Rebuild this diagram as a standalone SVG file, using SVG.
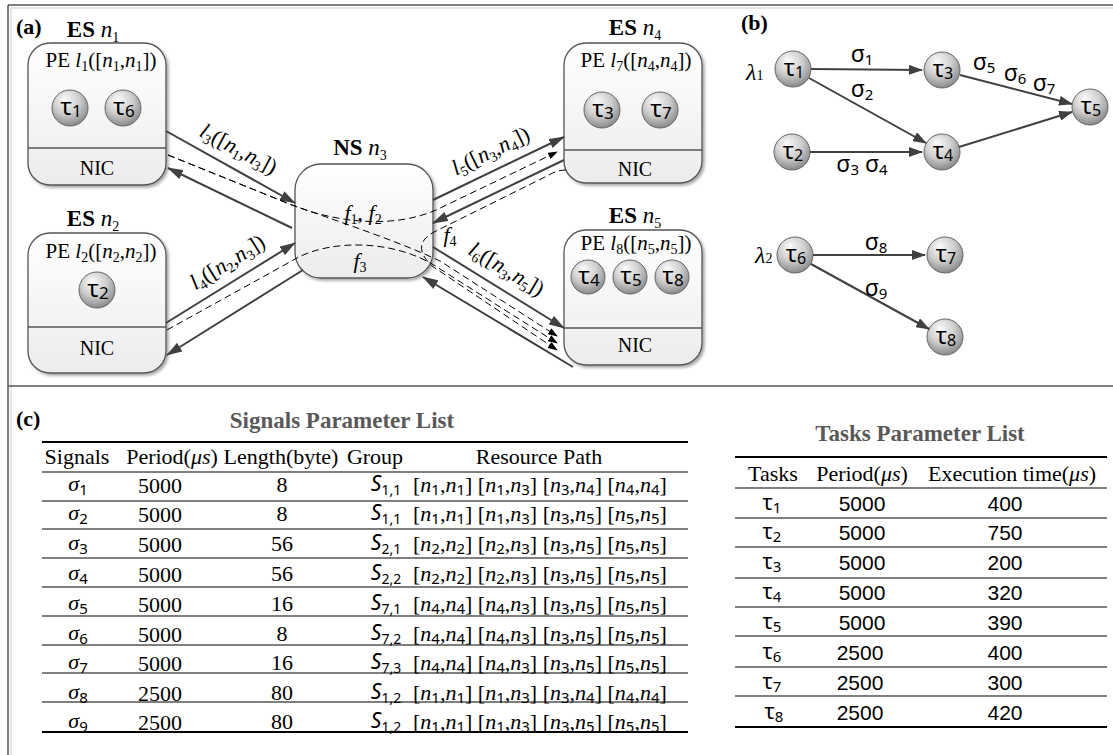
<svg xmlns="http://www.w3.org/2000/svg" width="1113" height="755" viewBox="0 0 1113 755">
<defs>
<style>
svg{font-family:"Liberation Serif","Times New Roman",serif}
text{fill:#000}
.b{font-weight:bold}
.it{font-style:italic}
.sb{font-size:14px}
.sn{font-family:"Noto Sans","DejaVu Sans",sans-serif}
.box{fill:url(#gbox);stroke:#555;stroke-width:1.3;filter:url(#sh)}
.div{stroke:#555;stroke-width:1.3}
.tk{fill:url(#gtk);stroke:#666;stroke-width:1}
.ln{stroke:#404040;stroke-width:2;fill:none;marker-end:url(#ah)}
.dl{stroke:#000;stroke-width:1;fill:none;stroke-dasharray:7 4;marker-end:url(#ahd)}
.gl{stroke:#404040;stroke-width:2;fill:none;marker-end:url(#ah2)}
.rule{stroke:#000;stroke-width:1.2}
.rule2{stroke:#000;stroke-width:2}
.ttl{font-size:23px;font-weight:bold;fill:#595959}
.frame{stroke:#555;stroke-width:1.5}
.frame2{stroke:#ddd;stroke-width:1.5}
.tx{font-size:24px}
.tsub{font-size:17px}
.cell{font-size:22px}
.ss{font-family:"Noto Sans","DejaVu Sans",sans-serif;font-size:15px}
.nic{font-size:20px}
.dg{font-family:"Liberation Sans",Arial,sans-serif;font-size:21px}
</style>
<linearGradient id="gbox" x1="0" y1="0" x2="0" y2="1">
<stop offset="0" stop-color="#ffffff"/>
<stop offset="1" stop-color="#ececec"/>
</linearGradient>
<radialGradient id="gtk" cx="45%" cy="35%" r="65%" fx="35%" fy="25%">
<stop offset="0" stop-color="#fbfbfb"/>
<stop offset="0.55" stop-color="#cfcfcf"/>
<stop offset="1" stop-color="#8a8a8a"/>
</radialGradient>
<filter id="sh" x="-10%" y="-10%" width="130%" height="130%">
<feDropShadow dx="2" dy="2" stdDeviation="1.5" flood-color="#000" flood-opacity="0.35"/>
</filter>
<marker id="ah" viewBox="0 0 16 10" refX="15" refY="5" markerWidth="16" markerHeight="10" markerUnits="userSpaceOnUse" orient="auto">
<path d="M0,0 L16,5 L0,10 z" fill="#404040"/>
</marker>
<marker id="ah2" viewBox="0 0 14 10" refX="13" refY="5" markerWidth="14" markerHeight="10" markerUnits="userSpaceOnUse" orient="auto">
<path d="M0,0 L14,5 L0,10 z" fill="#404040"/>
</marker>
<marker id="ahd" viewBox="0 0 10 7" refX="9" refY="3.5" markerWidth="10" markerHeight="7" markerUnits="userSpaceOnUse" orient="auto">
<path d="M0,0 L10,3.5 L0,7 z" fill="#000"/>
</marker>
</defs>

<rect x="0" y="0" width="1113" height="755" fill="#fff"/>

<g id="frame">
<line x1="8" y1="5" x2="1113" y2="5" class="frame"/>
<line x1="11" y1="8" x2="1113" y2="8" class="frame2"/>
<line x1="8" y1="5" x2="8" y2="755" class="frame"/>
<line x1="11" y1="8" x2="11" y2="755" class="frame2"/>
<line x1="8" y1="386" x2="1113" y2="386" class="frame"/>
</g>

<text x="16" y="34" font-size="22" class="b">(a)</text>
<text x="741" y="30" font-size="22" class="b">(b)</text>
<text x="16" y="426" font-size="22" class="b">(c)</text>

<g id="es-n1">
<rect x="28" y="43" width="138" height="142" rx="22" class="box"/>
<line x1="28" y1="148" x2="166" y2="148" class="div"/>
<text x="93" y="37" text-anchor="middle" font-size="23"><tspan class="b">ES</tspan><tspan class="it"> n</tspan><tspan class="sb" dy="5">1</tspan></text>
<text x="101" y="67" text-anchor="middle" font-size="21">PE <tspan class="it">l</tspan><tspan class="sb" dy="4">1</tspan><tspan dy="-4">([</tspan><tspan class="it">n</tspan><tspan class="sb" dy="4">1</tspan><tspan dy="-4">,</tspan><tspan class="it">n</tspan><tspan class="sb" dy="4">1</tspan><tspan dy="-4">])</tspan></text>
<circle cx="70" cy="108" r="18" class="tk"/>
<text x="71" y="115" text-anchor="middle" class="sn tx">τ<tspan class="tsub" dy="2">1</tspan></text>
<circle cx="123" cy="108" r="18" class="tk"/>
<text x="124" y="115" text-anchor="middle" class="sn tx">τ<tspan class="tsub" dy="2">6</tspan></text>
<text x="97" y="175" text-anchor="middle" class="nic">NIC</text>
</g>

<g id="es-n2">
<rect x="28" y="233" width="138" height="140" rx="22" class="box"/>
<line x1="28" y1="327" x2="166" y2="327" class="div"/>
<text x="93" y="226" text-anchor="middle" font-size="23"><tspan class="b">ES</tspan><tspan class="it"> n</tspan><tspan class="sb" dy="5">2</tspan></text>
<text x="101" y="258" text-anchor="middle" font-size="21">PE <tspan class="it">l</tspan><tspan class="sb" dy="4">2</tspan><tspan dy="-4">([</tspan><tspan class="it">n</tspan><tspan class="sb" dy="4">2</tspan><tspan dy="-4">,</tspan><tspan class="it">n</tspan><tspan class="sb" dy="4">2</tspan><tspan dy="-4">])</tspan></text>
<circle cx="97" cy="290" r="18" class="tk"/>
<text x="98" y="297" text-anchor="middle" class="sn tx">τ<tspan class="tsub" dy="2">2</tspan></text>
<text x="97" y="355" text-anchor="middle" class="nic">NIC</text>
</g>

<g id="ns-n3">
<rect x="295" y="164" width="138" height="114" rx="26" class="box"/>
<text x="360" y="155" text-anchor="middle" font-size="23"><tspan class="b">NS</tspan><tspan class="it"> n</tspan><tspan class="sb" dy="5">3</tspan></text>
</g>

<g id="es-n4">
<rect x="564" y="43" width="138" height="140" rx="22" class="box"/>
<line x1="564" y1="150" x2="702" y2="150" class="div"/>
<text x="635" y="35" text-anchor="middle" font-size="23"><tspan class="b">ES</tspan><tspan class="it"> n</tspan><tspan class="sb" dy="5">4</tspan></text>
<text x="636" y="67" text-anchor="middle" font-size="21">PE <tspan class="it">l</tspan><tspan class="sb" dy="4">7</tspan><tspan dy="-4">([</tspan><tspan class="it">n</tspan><tspan class="sb" dy="4">4</tspan><tspan dy="-4">,</tspan><tspan class="it">n</tspan><tspan class="sb" dy="4">4</tspan><tspan dy="-4">])</tspan></text>
<circle cx="602" cy="110" r="18" class="tk"/>
<text x="603" y="117" text-anchor="middle" class="sn tx">τ<tspan class="tsub" dy="2">3</tspan></text>
<circle cx="660" cy="110" r="18" class="tk"/>
<text x="661" y="117" text-anchor="middle" class="sn tx">τ<tspan class="tsub" dy="2">7</tspan></text>
<text x="635" y="176" text-anchor="middle" class="nic">NIC</text>
</g>

<g id="es-n5">
<rect x="564" y="230" width="138" height="135" rx="22" class="box"/>
<line x1="564" y1="328" x2="702" y2="328" class="div"/>
<text x="635" y="223" text-anchor="middle" font-size="23"><tspan class="b">ES</tspan><tspan class="it"> n</tspan><tspan class="sb" dy="5">5</tspan></text>
<text x="636" y="250" text-anchor="middle" font-size="21">PE <tspan class="it">l</tspan><tspan class="sb" dy="4">8</tspan><tspan dy="-4">([</tspan><tspan class="it">n</tspan><tspan class="sb" dy="4">5</tspan><tspan dy="-4">,</tspan><tspan class="it">n</tspan><tspan class="sb" dy="4">5</tspan><tspan dy="-4">])</tspan></text>
<circle cx="588" cy="277" r="17" class="tk"/>
<text x="589" y="284" text-anchor="middle" class="sn tx">τ<tspan class="tsub" dy="2">4</tspan></text>
<circle cx="630" cy="277" r="17" class="tk"/>
<text x="631" y="284" text-anchor="middle" class="sn tx">τ<tspan class="tsub" dy="2">5</tspan></text>
<circle cx="672" cy="277" r="17" class="tk"/>
<text x="673" y="284" text-anchor="middle" class="sn tx">τ<tspan class="tsub" dy="2">8</tspan></text>
<text x="635" y="352" text-anchor="middle" class="nic">NIC</text>
</g>

<g id="t1"><circle cx="793" cy="69" r="18" class="tk"/><text x="794" y="76" text-anchor="middle" class="sn" font-size="23">τ<tspan font-size="16" dy="2">1</tspan></text></g>
<g id="t3"><circle cx="942" cy="70" r="18" class="tk"/><text x="943" y="77" text-anchor="middle" class="sn" font-size="23">τ<tspan font-size="16" dy="2">3</tspan></text></g>
<g id="t5"><circle cx="1090" cy="107" r="18" class="tk"/><text x="1091" y="114" text-anchor="middle" class="sn" font-size="23">τ<tspan font-size="16" dy="2">5</tspan></text></g>
<g id="t2"><circle cx="792" cy="152" r="18" class="tk"/><text x="793" y="159" text-anchor="middle" class="sn" font-size="23">τ<tspan font-size="16" dy="2">2</tspan></text></g>
<g id="t4"><circle cx="942" cy="152" r="18" class="tk"/><text x="943" y="159" text-anchor="middle" class="sn" font-size="23">τ<tspan font-size="16" dy="2">4</tspan></text></g>
<g id="t6"><circle cx="795" cy="255" r="18" class="tk"/><text x="796" y="262" text-anchor="middle" class="sn" font-size="23">τ<tspan font-size="16" dy="2">6</tspan></text></g>
<g id="t7"><circle cx="945" cy="255" r="18" class="tk"/><text x="946" y="262" text-anchor="middle" class="sn" font-size="23">τ<tspan font-size="16" dy="2">7</tspan></text></g>
<g id="t8"><circle cx="945" cy="337" r="18" class="tk"/><text x="946" y="344" text-anchor="middle" class="sn" font-size="23">τ<tspan font-size="16" dy="2">8</tspan></text></g>
<text x="746" y="80" font-size="24" class="it">λ<tspan font-size="14" font-style="normal">1</tspan></text>
<text x="755" y="263" font-size="24" class="it">λ<tspan font-size="14" font-style="normal">2</tspan></text>

<g id="connectors">
<line x1="166" y1="131" x2="295" y2="203" class="ln"/>
<line x1="292" y1="228" x2="168" y2="168" class="ln"/>
<line x1="166" y1="323" x2="295" y2="243" class="ln"/>
<line x1="303" y1="270" x2="167" y2="355" class="ln"/>
<line x1="433" y1="200" x2="564" y2="137" class="ln"/>
<line x1="564" y1="160" x2="433" y2="223" class="ln"/>
<line x1="433" y1="247" x2="564" y2="328" class="ln"/>
<line x1="573" y1="367" x2="423" y2="277" class="ln"/>
<path d="M168,155 L292,205 C340,224 395,228 436,210 L557,152" class="dl"/>
<path d="M168,155 L292,205 C340,222 400,242 440,261 L557,336" class="dl"/>
<path d="M167,330 L297,258 C330,240 395,238 440,269 L557,343" class="dl"/>
<path d="M566,170 Q557,170 549,175 L434,232 Q410,245 432,266 L557,350" class="dl"/>
<path d="M811,69 L922,70" class="gl"/>
<path d="M809,78 L926,143" class="gl"/>
<path d="M810,152 L922,152" class="gl"/>
<path d="M960,75 L1072,104" class="gl"/>
<path d="M959,147 L1072,112" class="gl"/>
<path d="M813,255 L925,255" class="gl"/>
<path d="M811,264 L929,329" class="gl"/>
</g>

<g id="link-labels" font-size="22">
<text transform="translate(238,150) rotate(28)" text-anchor="middle" y="6"><tspan class="it">l</tspan><tspan class="sb" dy="4">3</tspan><tspan dy="-4">([</tspan><tspan class="it">n</tspan><tspan class="sb" dy="4">1</tspan><tspan dy="-4">,</tspan><tspan class="it">n</tspan><tspan class="sb" dy="4">3</tspan><tspan dy="-4">])</tspan></text>
<text transform="translate(228,263) rotate(-32)" text-anchor="middle" y="6"><tspan class="it">l</tspan><tspan class="sb" dy="4">4</tspan><tspan dy="-4">([</tspan><tspan class="it">n</tspan><tspan class="sb" dy="4">2</tspan><tspan dy="-4">,</tspan><tspan class="it">n</tspan><tspan class="sb" dy="4">3</tspan><tspan dy="-4">])</tspan></text>
<text transform="translate(491,152) rotate(-26)" text-anchor="middle" y="6"><tspan class="it">l</tspan><tspan class="sb" dy="4">5</tspan><tspan dy="-4">([</tspan><tspan class="it">n</tspan><tspan class="sb" dy="4">3</tspan><tspan dy="-4">,</tspan><tspan class="it">n</tspan><tspan class="sb" dy="4">4</tspan><tspan dy="-4">])</tspan></text>
<text transform="translate(506,270) rotate(31)" text-anchor="middle" y="6"><tspan class="it">l</tspan><tspan class="sb" dy="4">6</tspan><tspan dy="-4">([</tspan><tspan class="it">n</tspan><tspan class="sb" dy="4">3</tspan><tspan dy="-4">,</tspan><tspan class="it">n</tspan><tspan class="sb" dy="4">5</tspan><tspan dy="-4">])</tspan></text>
<text x="363" y="220" text-anchor="middle"><tspan class="it">f</tspan><tspan class="sb" dy="4">1</tspan><tspan dy="-4">, </tspan><tspan class="it">f</tspan><tspan class="sb" dy="4">2</tspan></text>
<text x="360" y="268" text-anchor="middle"><tspan class="it">f</tspan><tspan class="sb" dy="4">3</tspan></text>
<text x="450" y="242" text-anchor="middle"><tspan class="it">f</tspan><tspan class="sb" dy="4">4</tspan></text>
</g>

<g id="signal-labels" class="sn" font-size="23" text-anchor="middle">
<text x="862" y="62">σ<tspan font-size="15" dy="3">1</tspan></text>
<text x="862" y="97">σ<tspan font-size="15" dy="3">2</tspan></text>
<text x="862" y="172">σ<tspan font-size="15" dy="3">3</tspan><tspan dy="-3"> σ</tspan><tspan font-size="15" dy="3">4</tspan></text>
<text x="984" y="70">σ<tspan font-size="15" dy="3">5</tspan></text>
<text x="1015" y="81">σ<tspan font-size="15" dy="3">6</tspan></text>
<text x="1044" y="91">σ<tspan font-size="15" dy="3">7</tspan></text>
<text x="876" y="250">σ<tspan font-size="15" dy="3">8</tspan></text>
<text x="876" y="296">σ<tspan font-size="15" dy="3">9</tspan></text>
</g>

<g id="signals-table">
<text x="342" y="428" text-anchor="middle" class="ttl">Signals Parameter List</text>
<line x1="42" y1="442" x2="688" y2="442" class="rule2"/>
<line x1="42" y1="472" x2="688" y2="472" class="rule"/>
<line x1="42" y1="501" x2="688" y2="501" class="rule"/>
<line x1="42" y1="529" x2="688" y2="529" class="rule"/>
<line x1="42" y1="558" x2="688" y2="558" class="rule"/>
<line x1="42" y1="587" x2="688" y2="587" class="rule"/>
<line x1="42" y1="616" x2="688" y2="616" class="rule"/>
<line x1="42" y1="645" x2="688" y2="645" class="rule"/>
<line x1="42" y1="673" x2="688" y2="673" class="rule"/>
<line x1="42" y1="702" x2="688" y2="702" class="rule"/>
<line x1="42" y1="732" x2="688" y2="732" class="rule2"/>
<g class="cell" text-anchor="middle">
<text x="77" y="464">Signals</text>
<text x="172" y="464">Period(<tspan class="it">μs</tspan>)</text>
<text x="281" y="464">Length(byte)</text>
<text x="375" y="464">Group</text>
<text x="539" y="464">Resource Path</text>
</g>
<g class="cell" text-anchor="middle">
<text x="78" y="491"><tspan class="it">σ</tspan><tspan class="ss" dy="4">1</tspan></text>
<text x="78" y="520"><tspan class="it">σ</tspan><tspan class="ss" dy="4">2</tspan></text>
<text x="78" y="550"><tspan class="it">σ</tspan><tspan class="ss" dy="4">3</tspan></text>
<text x="78" y="580"><tspan class="it">σ</tspan><tspan class="ss" dy="4">4</tspan></text>
<text x="78" y="610"><tspan class="it">σ</tspan><tspan class="ss" dy="4">5</tspan></text>
<text x="78" y="640"><tspan class="it">σ</tspan><tspan class="ss" dy="4">6</tspan></text>
<text x="78" y="669"><tspan class="it">σ</tspan><tspan class="ss" dy="4">7</tspan></text>
<text x="78" y="699"><tspan class="it">σ</tspan><tspan class="ss" dy="4">8</tspan></text>
<text x="78" y="728"><tspan class="it">σ</tspan><tspan class="ss" dy="4">9</tspan></text>
<text x="160" y="493">5000</text>
<text x="160" y="522">5000</text>
<text x="160" y="552">5000</text>
<text x="160" y="582">5000</text>
<text x="160" y="612">5000</text>
<text x="160" y="642">5000</text>
<text x="160" y="671">5000</text>
<text x="160" y="701">2500</text>
<text x="160" y="730">2500</text>
<text x="282" y="492">8</text>
<text x="282" y="521">8</text>
<text x="282" y="551">56</text>
<text x="282" y="581">56</text>
<text x="282" y="611">16</text>
<text x="282" y="641">8</text>
<text x="282" y="670">16</text>
<text x="282" y="700">80</text>
<text x="282" y="729">80</text>
</g>
<g class="sn" font-size="21" text-anchor="middle">
<text x="386" y="491"><tspan class="it">S</tspan><tspan font-size="14" dy="4">1,1</tspan></text>
<text x="386" y="520"><tspan class="it">S</tspan><tspan font-size="14" dy="4">1,1</tspan></text>
<text x="386" y="550"><tspan class="it">S</tspan><tspan font-size="14" dy="4">2,1</tspan></text>
<text x="386" y="580"><tspan class="it">S</tspan><tspan font-size="14" dy="4">2,2</tspan></text>
<text x="386" y="610"><tspan class="it">S</tspan><tspan font-size="14" dy="4">7,1</tspan></text>
<text x="386" y="640"><tspan class="it">S</tspan><tspan font-size="14" dy="4">7,2</tspan></text>
<text x="386" y="669"><tspan class="it">S</tspan><tspan font-size="14" dy="4">7,3</tspan></text>
<text x="386" y="699"><tspan class="it">S</tspan><tspan font-size="14" dy="4">1,2</tspan></text>
<text x="386" y="728"><tspan class="it">S</tspan><tspan font-size="14" dy="4">1,2</tspan></text>
</g>
<g class="cell">
<text x="413" y="492">[<tspan class="it">n</tspan><tspan class="ss" dy="3">1</tspan><tspan dy="-3">,</tspan><tspan class="it">n</tspan><tspan class="ss" dy="3">1</tspan><tspan dy="-3">] [</tspan><tspan class="it">n</tspan><tspan class="ss" dy="3">1</tspan><tspan dy="-3">,</tspan><tspan class="it">n</tspan><tspan class="ss" dy="3">3</tspan><tspan dy="-3">] [</tspan><tspan class="it">n</tspan><tspan class="ss" dy="3">3</tspan><tspan dy="-3">,</tspan><tspan class="it">n</tspan><tspan class="ss" dy="3">4</tspan><tspan dy="-3">] [</tspan><tspan class="it">n</tspan><tspan class="ss" dy="3">4</tspan><tspan dy="-3">,</tspan><tspan class="it">n</tspan><tspan class="ss" dy="3">4</tspan><tspan dy="-3">]</tspan></text>
<text x="413" y="521">[<tspan class="it">n</tspan><tspan class="ss" dy="3">1</tspan><tspan dy="-3">,</tspan><tspan class="it">n</tspan><tspan class="ss" dy="3">1</tspan><tspan dy="-3">] [</tspan><tspan class="it">n</tspan><tspan class="ss" dy="3">1</tspan><tspan dy="-3">,</tspan><tspan class="it">n</tspan><tspan class="ss" dy="3">3</tspan><tspan dy="-3">] [</tspan><tspan class="it">n</tspan><tspan class="ss" dy="3">3</tspan><tspan dy="-3">,</tspan><tspan class="it">n</tspan><tspan class="ss" dy="3">5</tspan><tspan dy="-3">] [</tspan><tspan class="it">n</tspan><tspan class="ss" dy="3">5</tspan><tspan dy="-3">,</tspan><tspan class="it">n</tspan><tspan class="ss" dy="3">5</tspan><tspan dy="-3">]</tspan></text>
<text x="413" y="551">[<tspan class="it">n</tspan><tspan class="ss" dy="3">2</tspan><tspan dy="-3">,</tspan><tspan class="it">n</tspan><tspan class="ss" dy="3">2</tspan><tspan dy="-3">] [</tspan><tspan class="it">n</tspan><tspan class="ss" dy="3">2</tspan><tspan dy="-3">,</tspan><tspan class="it">n</tspan><tspan class="ss" dy="3">3</tspan><tspan dy="-3">] [</tspan><tspan class="it">n</tspan><tspan class="ss" dy="3">3</tspan><tspan dy="-3">,</tspan><tspan class="it">n</tspan><tspan class="ss" dy="3">5</tspan><tspan dy="-3">] [</tspan><tspan class="it">n</tspan><tspan class="ss" dy="3">5</tspan><tspan dy="-3">,</tspan><tspan class="it">n</tspan><tspan class="ss" dy="3">5</tspan><tspan dy="-3">]</tspan></text>
<text x="413" y="581">[<tspan class="it">n</tspan><tspan class="ss" dy="3">2</tspan><tspan dy="-3">,</tspan><tspan class="it">n</tspan><tspan class="ss" dy="3">2</tspan><tspan dy="-3">] [</tspan><tspan class="it">n</tspan><tspan class="ss" dy="3">2</tspan><tspan dy="-3">,</tspan><tspan class="it">n</tspan><tspan class="ss" dy="3">3</tspan><tspan dy="-3">] [</tspan><tspan class="it">n</tspan><tspan class="ss" dy="3">3</tspan><tspan dy="-3">,</tspan><tspan class="it">n</tspan><tspan class="ss" dy="3">5</tspan><tspan dy="-3">] [</tspan><tspan class="it">n</tspan><tspan class="ss" dy="3">5</tspan><tspan dy="-3">,</tspan><tspan class="it">n</tspan><tspan class="ss" dy="3">5</tspan><tspan dy="-3">]</tspan></text>
<text x="413" y="611">[<tspan class="it">n</tspan><tspan class="ss" dy="3">4</tspan><tspan dy="-3">,</tspan><tspan class="it">n</tspan><tspan class="ss" dy="3">4</tspan><tspan dy="-3">] [</tspan><tspan class="it">n</tspan><tspan class="ss" dy="3">4</tspan><tspan dy="-3">,</tspan><tspan class="it">n</tspan><tspan class="ss" dy="3">3</tspan><tspan dy="-3">] [</tspan><tspan class="it">n</tspan><tspan class="ss" dy="3">3</tspan><tspan dy="-3">,</tspan><tspan class="it">n</tspan><tspan class="ss" dy="3">5</tspan><tspan dy="-3">] [</tspan><tspan class="it">n</tspan><tspan class="ss" dy="3">5</tspan><tspan dy="-3">,</tspan><tspan class="it">n</tspan><tspan class="ss" dy="3">5</tspan><tspan dy="-3">]</tspan></text>
<text x="413" y="641">[<tspan class="it">n</tspan><tspan class="ss" dy="3">4</tspan><tspan dy="-3">,</tspan><tspan class="it">n</tspan><tspan class="ss" dy="3">4</tspan><tspan dy="-3">] [</tspan><tspan class="it">n</tspan><tspan class="ss" dy="3">4</tspan><tspan dy="-3">,</tspan><tspan class="it">n</tspan><tspan class="ss" dy="3">3</tspan><tspan dy="-3">] [</tspan><tspan class="it">n</tspan><tspan class="ss" dy="3">3</tspan><tspan dy="-3">,</tspan><tspan class="it">n</tspan><tspan class="ss" dy="3">5</tspan><tspan dy="-3">] [</tspan><tspan class="it">n</tspan><tspan class="ss" dy="3">5</tspan><tspan dy="-3">,</tspan><tspan class="it">n</tspan><tspan class="ss" dy="3">5</tspan><tspan dy="-3">]</tspan></text>
<text x="413" y="670">[<tspan class="it">n</tspan><tspan class="ss" dy="3">4</tspan><tspan dy="-3">,</tspan><tspan class="it">n</tspan><tspan class="ss" dy="3">4</tspan><tspan dy="-3">] [</tspan><tspan class="it">n</tspan><tspan class="ss" dy="3">4</tspan><tspan dy="-3">,</tspan><tspan class="it">n</tspan><tspan class="ss" dy="3">3</tspan><tspan dy="-3">] [</tspan><tspan class="it">n</tspan><tspan class="ss" dy="3">3</tspan><tspan dy="-3">,</tspan><tspan class="it">n</tspan><tspan class="ss" dy="3">5</tspan><tspan dy="-3">] [</tspan><tspan class="it">n</tspan><tspan class="ss" dy="3">5</tspan><tspan dy="-3">,</tspan><tspan class="it">n</tspan><tspan class="ss" dy="3">5</tspan><tspan dy="-3">]</tspan></text>
<text x="413" y="700">[<tspan class="it">n</tspan><tspan class="ss" dy="3">1</tspan><tspan dy="-3">,</tspan><tspan class="it">n</tspan><tspan class="ss" dy="3">1</tspan><tspan dy="-3">] [</tspan><tspan class="it">n</tspan><tspan class="ss" dy="3">1</tspan><tspan dy="-3">,</tspan><tspan class="it">n</tspan><tspan class="ss" dy="3">3</tspan><tspan dy="-3">] [</tspan><tspan class="it">n</tspan><tspan class="ss" dy="3">3</tspan><tspan dy="-3">,</tspan><tspan class="it">n</tspan><tspan class="ss" dy="3">4</tspan><tspan dy="-3">] [</tspan><tspan class="it">n</tspan><tspan class="ss" dy="3">4</tspan><tspan dy="-3">,</tspan><tspan class="it">n</tspan><tspan class="ss" dy="3">4</tspan><tspan dy="-3">]</tspan></text>
<text x="413" y="729">[<tspan class="it">n</tspan><tspan class="ss" dy="3">1</tspan><tspan dy="-3">,</tspan><tspan class="it">n</tspan><tspan class="ss" dy="3">1</tspan><tspan dy="-3">] [</tspan><tspan class="it">n</tspan><tspan class="ss" dy="3">1</tspan><tspan dy="-3">,</tspan><tspan class="it">n</tspan><tspan class="ss" dy="3">3</tspan><tspan dy="-3">] [</tspan><tspan class="it">n</tspan><tspan class="ss" dy="3">3</tspan><tspan dy="-3">,</tspan><tspan class="it">n</tspan><tspan class="ss" dy="3">5</tspan><tspan dy="-3">] [</tspan><tspan class="it">n</tspan><tspan class="ss" dy="3">5</tspan><tspan dy="-3">,</tspan><tspan class="it">n</tspan><tspan class="ss" dy="3">5</tspan><tspan dy="-3">]</tspan></text>
</g>
</g>

<g id="tasks-table">
<text x="920" y="441" text-anchor="middle" class="ttl">Tasks Parameter List</text>
<line x1="735" y1="457" x2="1107" y2="457" class="rule2"/>
<line x1="735" y1="488" x2="1107" y2="488" class="rule"/>
<line x1="735" y1="518" x2="1107" y2="518" class="rule"/>
<line x1="735" y1="547" x2="1107" y2="547" class="rule"/>
<line x1="735" y1="578" x2="1107" y2="578" class="rule"/>
<line x1="735" y1="607" x2="1107" y2="607" class="rule"/>
<line x1="735" y1="636" x2="1107" y2="636" class="rule"/>
<line x1="735" y1="667" x2="1107" y2="667" class="rule"/>
<line x1="735" y1="696" x2="1107" y2="696" class="rule"/>
<line x1="735" y1="727" x2="1107" y2="727" class="rule2"/>
<g class="cell" text-anchor="middle">
<text x="773" y="481">Tasks</text>
<text x="862" y="481">Period(<tspan class="it">μs</tspan>)</text>
<text x="1012" y="481">Execution time(<tspan class="it">μs</tspan>)</text>
</g>
<g class="sn" font-size="21" text-anchor="middle">
<text x="772" y="510">τ<tspan font-size="15" dy="3">1</tspan></text>
<text x="772" y="539">τ<tspan font-size="15" dy="3">2</tspan></text>
<text x="772" y="569">τ<tspan font-size="15" dy="3">3</tspan></text>
<text x="772" y="599">τ<tspan font-size="15" dy="3">4</tspan></text>
<text x="772" y="629">τ<tspan font-size="15" dy="3">5</tspan></text>
<text x="772" y="659">τ<tspan font-size="15" dy="3">6</tspan></text>
<text x="772" y="689">τ<tspan font-size="15" dy="3">7</tspan></text>
<text x="774" y="719">τ<tspan font-size="15" dy="3">8</tspan></text>
</g>
<g class="dg" text-anchor="middle">
<text x="862" y="511">5000</text>
<text x="862" y="540">5000</text>
<text x="862" y="570">5000</text>
<text x="862" y="600">5000</text>
<text x="862" y="630">5000</text>
<text x="860" y="660">2500</text>
<text x="860" y="690">2500</text>
<text x="860" y="720">2500</text>
<text x="1005" y="511">400</text>
<text x="1005" y="540">750</text>
<text x="1005" y="570">200</text>
<text x="1005" y="600">320</text>
<text x="1005" y="630">390</text>
<text x="1005" y="660">400</text>
<text x="1005" y="690">300</text>
<text x="1005" y="720">420</text>
</g>
</g>
</svg>
